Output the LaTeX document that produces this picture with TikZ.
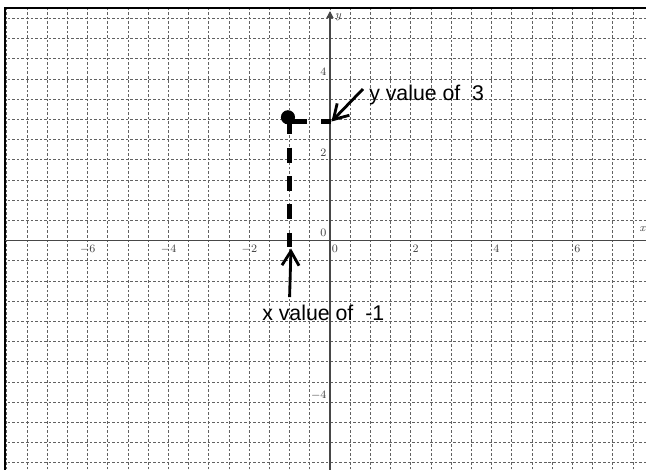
\documentclass[tikz,border=0pt]{standalone}
\usepackage{fontspec}
\newfontfamily\arialfont{Liberation Sans}
\usetikzlibrary{arrows.meta}
\begin{document}
\begin{tikzpicture}[x=1cm,y=1cm,
  gridline/.style={draw=black!62, line width=0.55pt, dash pattern=on 1.8pt off 1.4pt},
  axisline/.style={draw=black!72, line width=0.9pt},
  borderline/.style={draw=black, line width=1.4pt},
  ticklbl/.style={text=black!75, font=\fontsize{8}{9}\selectfont, inner sep=0pt},
  axlbl/.style={text=black!75, font=\fontsize{8}{9}\selectfont\itshape, inner sep=0pt},
  annot/.style={font=\arialfont\fontsize{15}{17}\selectfont, inner sep=0pt},
  guide/.style={line width=3.5pt, draw=black},
  pointer/.style={line width=2pt, draw=black, -{Straight Barb[length=10pt,width=12pt]}},
  dotstyle/.style={circle, fill=black, minimum size=0.35cm, inner sep=0pt},
]
\clip (-8.168,-5.656) rectangle (7.822,5.953);
\fill[white] (-8.168,-5.656) rectangle (7.822,5.953);
\begin{scope}
  \clip (-8.045,-6) rectangle (8.5,5.743);
  \foreach \i in {-8,-7.5,...,8} \draw[gridline] (\i,-6) -- (\i,6);
  \foreach \j in {-6,-5.5,...,6} \draw[gridline] (-8.2,\j) -- (8.5,\j);
\end{scope}
% border
\draw[borderline] (-8.045,-6) -- (-8.045,5.743) -- (8.5,5.743);
% axes
\coordinate (xa0) at (-8.045,0);
\coordinate (xa1) at (8.5,0);
\coordinate (ya0) at (0,-6);
\coordinate (ya1) at (0,5.68);
\draw[axisline] (xa0) -- (xa1);
\draw[axisline, -{Triangle[length=5pt,width=5pt]}] (ya0) -- (ya1);
\node[axlbl, anchor=west] (ylab) at (0.12,5.53) {y};
\node[axlbl, anchor=east] (xlab) at (7.81,0.285) {x};
% x tick labels
\foreach \n/\t in {-6/{\llap{$-$}6},-4/{\llap{$-$}4},-2/{\llap{$-$}2},0/0,2/2,4/4,6/6}
  \node[ticklbl, anchor=west] (xt\n) at (\n+0.04,-0.21) {\t};
% y tick labels
\node[ticklbl, anchor=east] (yt4) at (-0.08,4.17) {4};
\node[ticklbl, anchor=east] (yt2) at (-0.08,2.17) {2};
\node[ticklbl, anchor=east] (yt0) at (-0.08,0.19) {0};
\node[ticklbl, anchor=east] (ytm4) at (-0.08,-3.83) {$-$4};
% guides
\coordinate (vtop) at (-1,3.0);
\coordinate (vbot) at (-1,-0.16);
\coordinate (hleft) at (-1,2.95);
\coordinate (hright) at (0.015,2.95);
\draw[guide, dash pattern=on 10.5pt off 9.5pt] (vtop) -- (vbot);
\draw[guide, dash pattern=on 12.6pt off 9.8pt] (hleft) -- (hright);
\node[dotstyle] (dot) at (-1.04,3.05) {};
% annotations
\node[annot, anchor=base west] (ytext) at (0.965,3.477) {y value of\ \ 3};
\node[annot, anchor=base west] (xtext) at (-1.683,-1.968) {x value of\ \ -1};
\coordinate (ya) at (0.817,3.75);
\coordinate (yt) at (0.037,2.945);
\coordinate (xa) at (-1.0,-1.40);
\coordinate (xt) at (-0.965,-0.198);
\draw[pointer] (ya) -- (yt);
\draw[pointer] (xa) -- (xt);
\end{tikzpicture}
\end{document}
